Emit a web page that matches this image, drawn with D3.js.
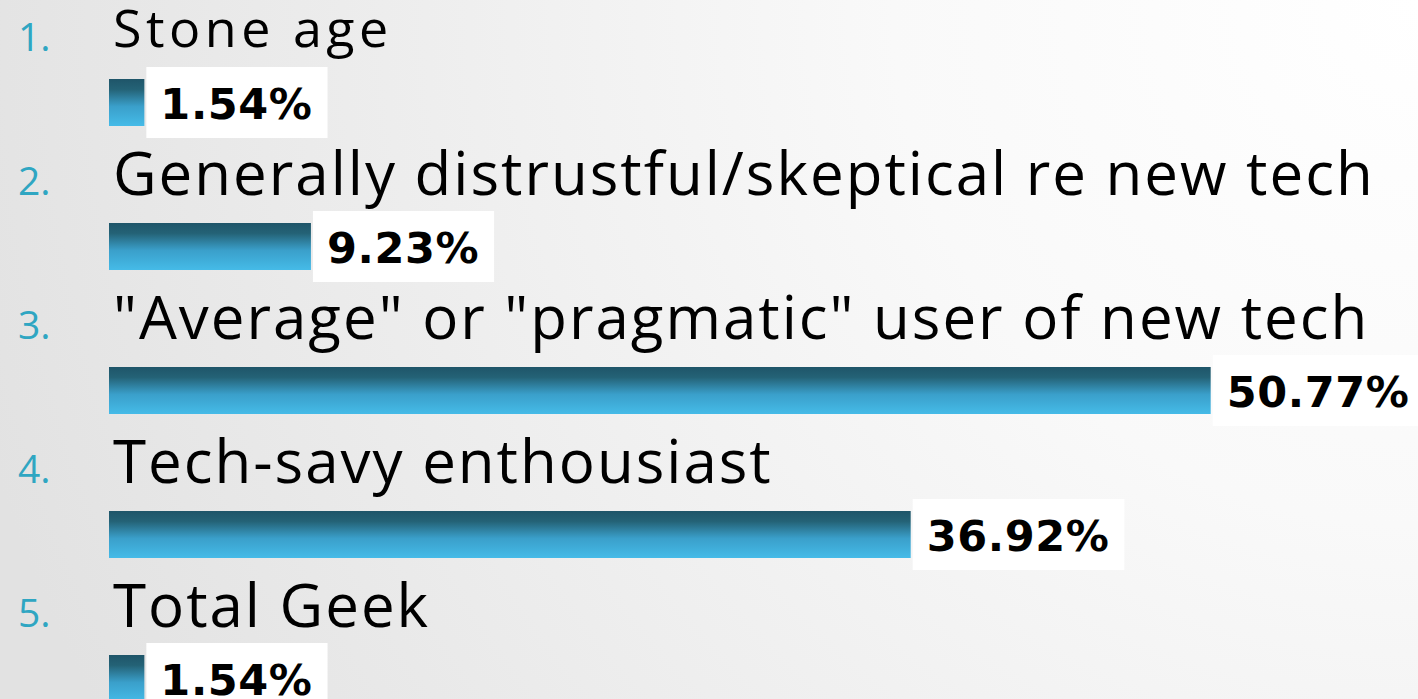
<!DOCTYPE html>
<html>
<head>
<meta charset="utf-8">
<script src="https://cdn.jsdelivr.net/npm/d3@7"></script>
<style>
  html, body { margin: 0; padding: 0; overflow: hidden; }
</style>
</head>
<body>
<div id="chart"></div>
<script>
// survey answers and their shares (percent)
var categories = ['Stone age', 'Generally distrustful/skeptical re new tech', '"Average" or "pragmatic" user of new tech', 'Tech-savy enthousiast', 'Total Geek']
var values = [1.54, 9.23, 50.77, 36.92, 1.54]
var valueLabels = ['1.54%', '9.23%', '50.77%', '36.92%', '1.54%']

var width = 1418, height = 699;

var svg = d3.select("#chart").append("svg")
    .attr("width", width)
    .attr("height", height);

var defs = svg.append("defs");

// slide background
var bg = defs.append("radialGradient").attr("id", "bg")
    .attr("gradientUnits", "userSpaceOnUse")
    .attr("cx", 1418).attr("cy", 0).attr("r", 1500);
bg.append("stop").attr("offset", "0%").attr("stop-color", "#ffffff");
bg.append("stop").attr("offset", "35%").attr("stop-color", "#f9f9f9");
bg.append("stop").attr("offset", "100%").attr("stop-color", "#e2e2e2");

// bar fill
var barGrad = defs.append("linearGradient").attr("id", "bar")
    .attr("x1", 0).attr("y1", 0).attr("x2", 0).attr("y2", 1);
barGrad.append("stop").attr("offset", "0%").attr("stop-color", "#1f5569");
barGrad.append("stop").attr("offset", "22%").attr("stop-color", "#246276");
barGrad.append("stop").attr("offset", "58%").attr("stop-color", "#3a9fca");
barGrad.append("stop").attr("offset", "100%").attr("stop-color", "#45bbe8");

svg.append("rect").attr("width", width).attr("height", height).attr("fill", "url(#bg)");

var x = d3.scaleLinear().domain([0, 100]).range([111, 2277]);
var y = d3.scaleBand().domain(d3.range(categories.length)).range([79, 79 + 144 * 5]).paddingInner(0);
var barH = 47;

var rows = svg.selectAll("g.row")
    .data(categories.map((c, i) => ({ cat: c, v: values[i], label: valueLabels[i], i: i })))
    .join("g")
    .attr("class", "row")
    .attr("transform", d => "translate(0," + y(d.i) + ")");

// list number
rows.append("text")
    .attr("x", 18)
    .attr("y", -28)
    .style("font-family", "Open Sans")
    .style("font-weight", 400)
    .style("font-size", "39px")
    .style("fill", "#2fa6c2")
    .text(d => (d.i + 1) + ".");

// category text (first one came out smaller on the slide)
rows.append("text")
    .attr("x", 113)
    .attr("y", d => d.i === 0 ? -32 : -28)
    .style("font-family", "Open Sans")
    .style("font-size", d => d.i === 0 ? "52px" : "60px")
    .style("letter-spacing", d => d.i === 0 ? "4.5px" : "2px")
    .style("fill", "#000")
    .text(d => d.cat);

// bars
rows.append("rect")
    .attr("x", x(0) - 2)
    .attr("y", 0)
    .attr("width", d => x(d.v) - x(0) + 2)
    .attr("height", barH)
    .attr("fill", "url(#bar)");

// value label box + text
var lab = rows.append("g")
    .attr("transform", d => "translate(" + (x(d.v) + 2) + ",0)");
var boxes = lab.append("rect")
    .attr("y", -12)
    .attr("height", 71)
    .attr("fill", "#ffffff");
var vtxt = lab.append("text")
    .attr("x", 14)
    .attr("y", 40)
    .style("font-family", "DejaVu Sans")
    .style("font-weight", "bold")
    .style("font-size", "43px")
    .style("letter-spacing", "0.6px")
    .style("fill", "#000")
    .text(d => d.label);
vtxt.each(function (d) {
    d.tw = this.getComputedTextLength();
});
boxes.attr("width", d => d.tw + 29);
</script>
</body>
</html>
